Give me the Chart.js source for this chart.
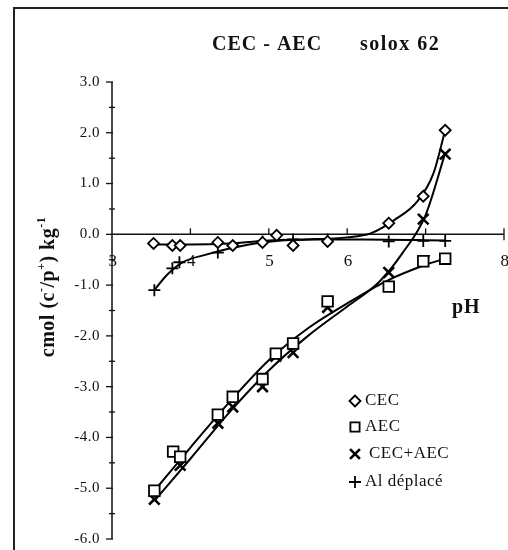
<!DOCTYPE html>
<html>
<head>
<meta charset="utf-8">
<script src="https://cdn.jsdelivr.net/npm/chart.js"></script>
<style>
  html, body { margin: 0; padding: 0; background: #fff; }
  #wrap { position: relative; width: 508px; height: 550px; overflow: hidden; }
  #frame { position: absolute; left: 13px; top: 7px; right: -4px; bottom: -4px;
           border-top: 2px solid #222; border-left: 2px solid #222; }
  canvas { position: absolute; left: 0; top: 0; }
</style>
</head>
<body>
<div id="wrap">
  <div id="frame"></div>
  <canvas id="chart" width="508" height="550"></canvas>
</div>
<script>
// measured points (pH, cmol kg-1)
const cecPH  = [3.53, 3.77, 3.87, 4.35, 4.54, 4.92, 5.10, 5.31, 5.75, 6.53, 6.97, 7.25];
const cecVal = [-0.18, -0.22, -0.22, -0.16, -0.22, -0.16, -0.02, -0.22, -0.14, 0.22, 0.75, 2.05];
const aecPH  = [3.54, 3.78, 3.87, 4.35, 4.54, 4.92, 5.09, 5.31, 5.75, 6.53, 6.97, 7.25];
const aecVal = [-5.05, -4.28, -4.38, -3.55, -3.20, -2.85, -2.35, -2.15, -1.32, -1.03, -0.53, -0.48];
const sumPH  = [3.54, 3.87, 4.35, 4.54, 4.92, 5.09, 5.31, 5.75, 6.53, 6.97, 7.25];
const sumVal = [-5.22, -4.55, -3.72, -3.40, -3.00, -2.40, -2.33, -1.44, -0.75, 0.30, 1.58];
const alPH   = [3.54, 3.77, 3.86, 4.35, 4.92, 5.31, 5.75, 6.53, 6.97, 7.25];
const alVal  = [-1.10, -0.67, -0.55, -0.36, -0.14, -0.10, -0.10, -0.14, -0.13, -0.13];

// hand-fitted curves through each series
const cecFitPH  = [3.53, 4.0, 4.5, 5.0, 5.5, 6.0, 6.3, 6.6, 6.9, 7.1, 7.25];
const cecFitVal = [-0.20, -0.20, -0.18, -0.12, -0.10, -0.06, 0.02, 0.28, 0.66, 1.20, 2.05];
const aecFitPH  = [3.54, 4.0, 4.5, 5.0, 5.5, 6.0, 6.5, 7.0, 7.25];
const aecFitVal = [-5.05, -4.20, -3.30, -2.48, -1.85, -1.36, -0.92, -0.60, -0.48];
const sumFitPH  = [3.54, 4.0, 4.5, 5.0, 5.5, 6.0, 6.4, 6.7, 7.0, 7.25];
const sumFitVal = [-5.25, -4.42, -3.50, -2.68, -2.00, -1.42, -0.95, -0.38, 0.38, 1.60];
const alFitPH   = [3.54, 3.7, 3.9, 4.2, 4.5, 4.9, 5.5, 6.2, 7.25];
const alFitVal  = [-1.10, -0.80, -0.55, -0.40, -0.28, -0.16, -0.10, -0.10, -0.12];

const xTicks = [3, 4, 5, 6, 7, 8];
const yTicks = [3, 2, 1, 0, -1, -2, -3, -4, -5, -6];
const legendLabels = ['CEC', 'AEC', 'CEC+AEC', 'Al déplacé'];

const SERIF = '"Liberation Serif", "Times New Roman", serif';
const pts = (xs, ys) => xs.map((x, i) => ({ x: x, y: ys[i] }));

const markerStyles = [
  { pointStyle: 'rectRot', radius: 5.5, borderWidth: 1.8, fill: '#fff' },
  { pointStyle: 'rect', radius: 7.5, borderWidth: 1.8, fill: '#fff' },
  { pointStyle: 'crossRot', radius: 7.5, borderWidth: 2.6, fill: '#fff' },
  { pointStyle: 'cross', radius: 6, borderWidth: 1.8, fill: '#fff' }
];

function markerSet(label, data, st) {
  return {
    label: label,
    data: data,
    showLine: false,
    pointStyle: st.pointStyle,
    pointRadius: st.radius,
    pointBorderWidth: st.borderWidth,
    pointBorderColor: '#000',
    pointBackgroundColor: st.fill
  };
}

function curveSet(data) {
  return {
    data: data,
    showLine: true,
    pointRadius: 0,
    borderColor: '#000',
    borderWidth: 2,
    cubicInterpolationMode: 'monotone',
    fill: false
  };
}

// axes crossing at (3, 0), drawn from the chart's own scales
const crossedAxes = {
  id: 'crossedAxes',
  beforeDatasetsDraw(chart) {
    const ctx = chart.ctx;
    const xs = chart.scales.x, ys = chart.scales.y;
    const x0 = xs.getPixelForValue(3), y0 = ys.getPixelForValue(0);
    ctx.save();
    ctx.strokeStyle = '#111';
    ctx.lineWidth = 1.5;
    ctx.beginPath();
    ctx.moveTo(x0, ys.getPixelForValue(3));
    ctx.lineTo(x0, ys.getPixelForValue(-6));
    ctx.moveTo(x0, y0);
    ctx.lineTo(xs.getPixelForValue(8), y0);
    ctx.stroke();

    ctx.lineWidth = 1.3;
    // y ticks: majors to the left, minors across the axis
    for (let v = -6; v <= 3.001; v += 0.5) {
      const y = ys.getPixelForValue(v);
      const major = Math.abs(v - Math.round(v)) < 0.01;
      ctx.beginPath();
      if (major) { ctx.moveTo(x0 - 6, y); ctx.lineTo(x0 + 1, y); }
      else { ctx.moveTo(x0 - 3, y); ctx.lineTo(x0 + 3, y); }
      ctx.stroke();
    }
    // x ticks stand up from the axis
    xTicks.forEach(v => {
      if (v === 3) return;
      const x = xs.getPixelForValue(v);
      ctx.beginPath();
      ctx.moveTo(x, y0 - 6);
      ctx.lineTo(x, v === 8 ? y0 + 6 : y0);
      ctx.stroke();
    });

    ctx.fillStyle = '#111';
    ctx.textBaseline = 'middle';
    ctx.font = '15px ' + SERIF;
    ctx.letterSpacing = '0.5px';
    ctx.textAlign = 'right';
    yTicks.forEach(v => ctx.fillText(v.toFixed(1), x0 - 12, ys.getPixelForValue(v)));
    ctx.font = '17px ' + SERIF;
    ctx.textAlign = 'center';
    xTicks.forEach(v => ctx.fillText(String(v), xs.getPixelForValue(v) + 1, y0 + 27));
    ctx.restore();
  }
};

// titles and legend on top of the plot
const decor = {
  id: 'decor',
  afterDraw(chart) {
    const ctx = chart.ctx;
    ctx.save();
    ctx.fillStyle = '#111';
    ctx.textBaseline = 'middle';
    ctx.textAlign = 'left';
    ctx.letterSpacing = '1px';
    ctx.font = 'bold 20px ' + SERIF;
    ctx.fillText('CEC - AEC', 212, 45);
    ctx.letterSpacing = '1.5px';
    ctx.fillText('solox 62', 360, 45);
    ctx.letterSpacing = '1px';
    ctx.fillText('pH', 452, 308);

    // y axis title with superscripts
    const parts = [
      ['cmol (c', 0], ['-', 1], ['/p', 0], ['+', 1], [') kg', 0], ['-1', 1]
    ];
    const mainFont = 'bold 20px ' + SERIF, supFont = 'bold 12px ' + SERIF;
    ctx.letterSpacing = '0.5px';
    let total = 0;
    parts.forEach(p => { ctx.font = p[1] ? supFont : mainFont; total += ctx.measureText(p[0]).width; });
    ctx.translate(49, 287);
    ctx.rotate(-Math.PI / 2);
    let px = -total / 2;
    parts.forEach(p => {
      ctx.font = p[1] ? supFont : mainFont;
      ctx.fillText(p[0], px, p[1] ? -7 : 0);
      px += ctx.measureText(p[0]).width;
    });
    ctx.setTransform(1, 0, 0, 1, 0, 0);

    // legend
    const rows = [401, 427, 454, 482];
    const textX = [365, 365, 369, 365];
    const legendRadius = [5.5, 6.5, 7, 6];
    ctx.font = '17px ' + SERIF;
    legendLabels.forEach((lab, i) => {
      const st = markerStyles[i];
      ctx.fillStyle = st.fill;
      ctx.strokeStyle = '#000';
      ctx.lineWidth = st.borderWidth;
      Chart.helpers.drawPoint(ctx, {
        pointStyle: st.pointStyle, radius: legendRadius[i],
        rotation: 0, borderWidth: st.borderWidth
      }, 355, rows[i]);
      ctx.fillStyle = '#111';
      ctx.fillText(lab, textX[i], rows[i]);
    });
    ctx.restore();
  }
};

new Chart(document.getElementById('chart'), {
  type: 'scatter',
  data: {
    datasets: [
      markerSet(legendLabels[0], pts(cecPH, cecVal), markerStyles[0]),
      markerSet(legendLabels[1], pts(aecPH, aecVal), markerStyles[1]),
      markerSet(legendLabels[2], pts(sumPH, sumVal), markerStyles[2]),
      markerSet(legendLabels[3], pts(alPH, alVal), markerStyles[3]),
      curveSet(pts(cecFitPH, cecFitVal)),
      curveSet(pts(aecFitPH, aecFitVal)),
      curveSet(pts(sumFitPH, sumFitVal)),
      curveSet(pts(alFitPH, alFitVal))
    ]
  },
  options: {
    responsive: false,
    animation: false,
    layout: { autoPadding: false, padding: { left: 112, right: 4, top: 82, bottom: 11 } },
    plugins: { legend: { display: false }, tooltip: { enabled: false }, title: { display: false } },
    scales: {
      x: { type: 'linear', min: 3, max: 8, display: false },
      y: { type: 'linear', min: -6, max: 3, display: false }
    }
  },
  plugins: [crossedAxes, decor]
});
</script>
</body>
</html>
